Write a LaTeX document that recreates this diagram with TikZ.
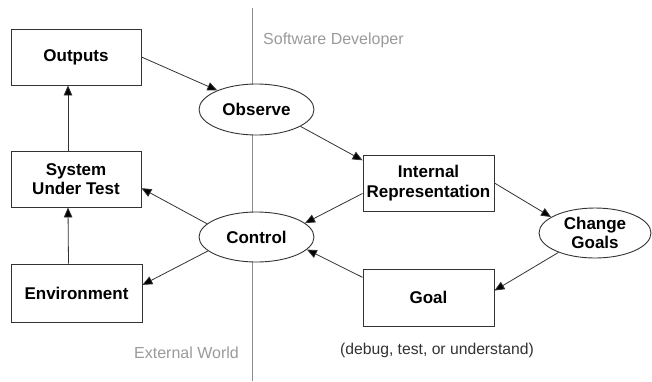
\documentclass[tikz,border=0pt]{standalone}
\usepackage{fontspec}
\setmainfont{Liberation Sans}
\usetikzlibrary{shapes.geometric,arrows.meta}
\definecolor{edgegray}{HTML}{333333}
\definecolor{labelgray}{HTML}{9A9A9A}
\definecolor{dividergray}{HTML}{8C8C8C}
\tikzset{
  boxnode/.style={draw=edgegray, line width=0.9pt, fill=white, rectangle, inner sep=0pt,
    align=center, font=\fontsize{17}{19.5}\selectfont\bfseries},
  ellnode/.style={draw=edgegray, line width=0.9pt, fill=white, ellipse, inner sep=0pt,
    align=center, font=\fontsize{17}{18.5}\selectfont\bfseries},
  conn/.style={draw=edgegray, line width=0.8pt, -{Triangle[length=10pt,width=8.5pt,fill=black]}},
  graylabel/.style={text=labelgray, inner sep=0pt, font=\fontsize{16}{19}\selectfont},
  plainlabel/.style={text=black!80, inner sep=0pt, font=\fontsize{15.7}{19}\selectfont}
}
\begin{document}
\begin{tikzpicture}[x=1pt,y=-1pt]
\useasboundingbox (0,0) rectangle (652,381);
\coordinate (divtop) at (252,8);
\coordinate (divbot) at (252,381);
\draw[dividergray, line width=0.8pt] (divtop) -- (divbot);

\node[boxnode, minimum width=130, minimum height=56] (out) at (76,57) {Outputs};
\node[boxnode, minimum width=130, minimum height=56] (sut) at (76,179) {System\\Under Test};
\node[boxnode, minimum width=131, minimum height=58] (env) at (76.5,293) {Environment};
\node[ellnode, minimum width=115, minimum height=51] (obs) at (256.5,109.5) {Observe};
\node[ellnode, minimum width=115, minimum height=50] (ctl) at (256.5,237) {Control};
\node[boxnode, minimum width=131, minimum height=56] (ir) at (428.5,183) {Internal\\Representation};
\node[boxnode, minimum width=131, minimum height=57] (goal) at (428.5,297.5) {Goal};
\node[ellnode, minimum width=112, minimum height=50] (cg) at (595,233) {Change\\Goals};

\node[graylabel, anchor=west] (swdev) at (263,40) {Software Developer};
\node[graylabel, anchor=east] (extw) at (239,353) {External World};
\node[plainlabel] (goalnote) at (437,350) {(debug, test, or understand)};

\draw[conn] (out.east) -- (obs.154);
\draw[conn] (obs.-21) -- (ir.161);
\draw[conn] (ir.east) -- (cg.160);
\draw[conn] (cg.208) -- (goal.6.5);
\draw[conn] (goal.163) -- (ctl.-14);
\draw[conn] (ir.189) -- (ctl.16);
\draw[conn] (ctl.165) -- (sut.-8);
\draw[conn] (ctl.196) -- (env.7);
\draw[conn] ([xshift=-8pt]env.north) -- ([xshift=-8pt]sut.south);
\draw[conn] ([xshift=-8pt]sut.north) -- ([xshift=-8pt]out.south);
\end{tikzpicture}
\end{document}
